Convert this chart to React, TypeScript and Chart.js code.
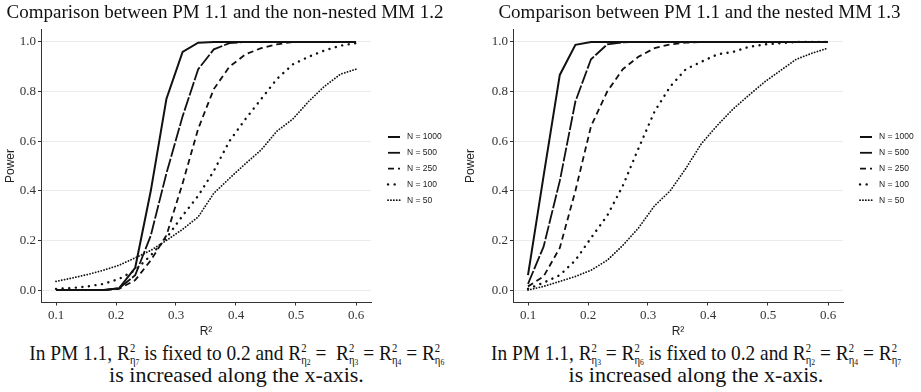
import React, { useEffect, useRef } from "react";
import { Chart, registerables } from "chart.js";
Chart.register(...registerables);

// R² grid used by the simulation (20 points between 0.1 and 0.6)
const rSquared = [0.1, 0.126, 0.153, 0.179, 0.205, 0.232, 0.258, 0.284, 0.311, 0.337, 0.363, 0.389, 0.416, 0.442, 0.468, 0.495, 0.521, 0.547, 0.574, 0.6];
const seriesLabels = ["N = 1000", "N = 500", "N = 250", "N = 100", "N = 50"];
const xTickValues = [0.1, 0.2, 0.3, 0.4, 0.5, 0.6];
const yTickValues = [0, 0.2, 0.4, 0.6, 0.8, 1.0];

// Left panel: PM 1.1 vs non-nested MM 1.2
const nonNested1000 = [0, 0, 0, 0, 0.007, 0.09, 0.4, 0.77, 0.96, 0.997, 1, 1, 1, 1, 1, 1, 1, 1, 1, 1];
const nonNested500 = [0, 0, 0, 0, 0.007, 0.06, 0.22, 0.47, 0.7, 0.89, 0.97, 0.995, 1, 1, 1, 1, 1, 1, 1, 1];
const nonNested250 = [0, 0, 0, 0, 0.005, 0.04, 0.12, 0.22, 0.43, 0.65, 0.81, 0.9, 0.95, 0.975, 0.99, 1, 1, 1, 1, 1];
const nonNested100 = [0.005, 0.008, 0.015, 0.025, 0.045, 0.08, 0.14, 0.21, 0.3, 0.38, 0.48, 0.6, 0.69, 0.77, 0.85, 0.91, 0.94, 0.965, 0.985, 0.995];
const nonNested50 = [0.035, 0.048, 0.063, 0.08, 0.1, 0.13, 0.16, 0.2, 0.245, 0.295, 0.39, 0.45, 0.51, 0.565, 0.64, 0.69, 0.76, 0.82, 0.87, 0.89];

// Right panel: PM 1.1 vs nested MM 1.3
const nested1000 = [0.06, 0.46, 0.867, 0.988, 1, 1, 1, 1, 1, 1, 1, 1, 1, 1, 1, 1, 1, 1, 1, 1];
const nested500 = [0.025, 0.175, 0.44, 0.76, 0.93, 0.99, 0.998, 1, 1, 1, 1, 1, 1, 1, 1, 1, 1, 1, 1, 1];
const nested250 = [0.015, 0.055, 0.17, 0.4, 0.66, 0.8, 0.89, 0.94, 0.975, 0.99, 0.997, 1, 1, 1, 1, 1, 1, 1, 1, 1];
const nested100 = [0.005, 0.03, 0.06, 0.12, 0.21, 0.3, 0.42, 0.57, 0.72, 0.82, 0.89, 0.92, 0.95, 0.96, 0.98, 0.99, 0.995, 1, 1, 1];
const nested50 = [0, 0.015, 0.035, 0.055, 0.08, 0.12, 0.18, 0.25, 0.34, 0.4, 0.49, 0.59, 0.665, 0.73, 0.785, 0.84, 0.885, 0.93, 0.955, 0.975];

const lineStyles = [
  { dash: [] as number[], width: 2, cap: "butt" },
  { dash: [14, 2], width: 1.8, cap: "butt" },
  { dash: [6, 4], width: 1.8, cap: "butt" },
  { dash: [0.1, 6.5], width: 2.4, cap: "round" },
  { dash: [0.1, 2.8], width: 1.8, cap: "round" },
];

const SERIF = "'Liberation Serif', 'Times New Roman', serif";
const SANS = "'Liberation Sans', Arial, sans-serif";

type PanelProps = {
  series: number[][];
  width: number;
  left: number;
  yAxisWidth: number;
  padRight: number;
};

function PowerChart({ series, width, left, yAxisWidth, padRight }: PanelProps) {
  const ref = useRef<HTMLCanvasElement>(null);
  useEffect(() => {
    const canvas = ref.current!;
    const legendPlugin = {
      id: "keyLegend",
      afterDraw(chart: any) {
        const { ctx, chartArea } = chart;
        const keyX = chartArea.right + 17;
        const rowTop = 137;
        const rowGap = 15.8;
        ctx.save();
        chart.data.datasets.forEach((ds: any, i: number) => {
          const y = rowTop + i * rowGap;
          ctx.beginPath();
          ctx.setLineDash(ds.borderDash || []);
          ctx.lineCap = ds.borderCapStyle || "butt";
          ctx.lineWidth = ds.borderWidth;
          ctx.strokeStyle = ds.borderColor;
          ctx.moveTo(keyX, y);
          ctx.lineTo(keyX + 12, y);
          ctx.stroke();
          ctx.setLineDash([]);
          ctx.fillStyle = "#222";
          ctx.font = `8.5px ${SANS}`;
          ctx.textBaseline = "middle";
          ctx.textAlign = "left";
          ctx.fillText(ds.label, keyX + 19, y);
        });
        ctx.restore();
      },
    };
    const tickFont = { family: SERIF, size: 13 };
    const chart = new Chart(canvas, {
      type: "line",
      data: {
        datasets: series.map((vals, i) => ({
          label: seriesLabels[i],
          data: rSquared.map((x, j) => ({ x, y: vals[j] })),
          borderColor: "#111",
          borderWidth: lineStyles[i].width,
          borderDash: lineStyles[i].dash,
          borderCapStyle: lineStyles[i].cap as CanvasLineCap,
          pointRadius: 0,
          tension: 0,
          fill: false,
        })),
      },
      options: {
        responsive: false,
        animation: false,
        layout: { padding: { top: 29.5, right: padRight, left: 0, bottom: 0 } },
        plugins: { legend: { display: false }, tooltip: { enabled: false } },
        scales: {
          x: {
            type: "linear",
            min: 0.075,
            max: 0.625,
            afterBuildTicks: (s: any) => {
              s.ticks = xTickValues.map((v) => ({ value: v }));
            },
            afterFit: (s: any) => {
              s.height = 37.5;
            },
            grid: { drawOnChartArea: false, tickColor: "#333", tickLength: 3 },
            border: { color: "#333", width: 1 },
            ticks: {
              font: tickFont,
              color: "#333",
              padding: 2,
              maxRotation: 0,
              autoSkip: false,
              callback: (v: any) => Number(v).toFixed(1),
            },
            title: { display: true, text: "R²", font: { family: SANS, size: 12 }, color: "#222", padding: { top: 0, bottom: 1 } },
          },
          y: {
            type: "linear",
            min: -0.05,
            max: 1.05,
            afterBuildTicks: (s: any) => {
              s.ticks = yTickValues.map((v) => ({ value: v }));
            },
            afterFit: (s: any) => {
              s.width = yAxisWidth;
            },
            grid: { color: "#ebebeb", lineWidth: 1, tickColor: "#333", tickLength: 3 },
            border: { color: "#333", width: 1 },
            ticks: {
              font: tickFont,
              color: "#333",
              padding: 2,
              autoSkip: false,
              callback: (v: any) => Number(v).toFixed(1),
            },
            title: { display: true, text: "Power", font: { family: SANS, size: 12 }, color: "#222", padding: { top: 3, bottom: 0 } },
          },
        },
      },
      plugins: [legendPlugin],
    });
    return () => chart.destroy();
  }, []);
  return (
    <canvas
      ref={ref}
      width={width}
      height={340}
      style={{ position: "absolute", left, top: 0, width, height: 340 }}
    />
  );
}

function RSq({ idx }: { idx: string }) {
  return (
    <span style={{ whiteSpace: "nowrap" }}>
      R
      <span
        style={{
          display: "inline-block",
          verticalAlign: "-0.32em",
          lineHeight: 0.95,
          fontSize: "0.55em",
          textAlign: "left",
        }}
      >
        <span style={{ display: "block" }}>2</span>
        <span style={{ display: "block" }}>
          η<span style={{ fontSize: "0.72em", verticalAlign: "-0.12em" }}>{idx}</span>
        </span>
      </span>
    </span>
  );
}

const titleStyle: React.CSSProperties = {
  position: "absolute",
  top: 2,
  width: 460,
  textAlign: "center",
  fontFamily: SERIF,
  fontSize: 19,
  lineHeight: "19px",
  color: "#111",
  whiteSpace: "nowrap",
};

const captionStyle: React.CSSProperties = {
  position: "absolute",
  width: 560,
  height: 22,
  textAlign: "center",
  fontFamily: SERIF,
  fontSize: 22,
  lineHeight: "22px",
  color: "#111",
  whiteSpace: "nowrap",
};

const squeezed: React.CSSProperties = {
  display: "inline-block",
  transform: "scaleX(0.88)",
  transformOrigin: "50% 50%",
};

export default function App() {
  return (
    <div style={{ position: "absolute", left: 0, top: 0, width: 921, height: 392, background: "#fff", overflow: "hidden" }}>
      <PowerChart
        series={[nonNested1000, nonNested500, nonNested250, nonNested100, nonNested50]}
        width={460}
        left={0}
        yAxisWidth={41}
        padRight={89}
      />
      <PowerChart
        series={[nested1000, nested500, nested250, nested100, nested50]}
        width={461}
        left={460}
        yAxisWidth={53}
        padRight={78}
      />
      <div style={{ ...titleStyle, left: -5 }}>Comparison between PM 1.1 and the non-nested MM 1.2</div>
      <div style={{ ...titleStyle, left: 469.5 }}>Comparison between PM 1.1 and the nested MM 1.3</div>

      <div style={{ ...captionStyle, left: 236.5 - 280, top: 342 }}>
        <span style={squeezed}>
          In PM 1.1, <RSq idx="7" /> is fixed to 0.2 and <RSq idx="2" /> = &nbsp;<RSq idx="3" /> = <RSq idx="4" /> = <RSq idx="6" />
        </span>
      </div>
      <div style={{ ...captionStyle, left: 236.5 - 280, top: 364 }}>is increased along the x-axis.</div>

      <div style={{ ...captionStyle, left: 696 - 280, top: 342 }}>
        <span style={squeezed}>
          In PM 1.1, <RSq idx="3" /> = <RSq idx="6" /> is fixed to 0.2 and <RSq idx="2" /> = <RSq idx="4" /> = <RSq idx="7" />
        </span>
      </div>
      <div style={{ ...captionStyle, left: 696 - 280, top: 364 }}>is increased along the x-axis.</div>
    </div>
  );
}
